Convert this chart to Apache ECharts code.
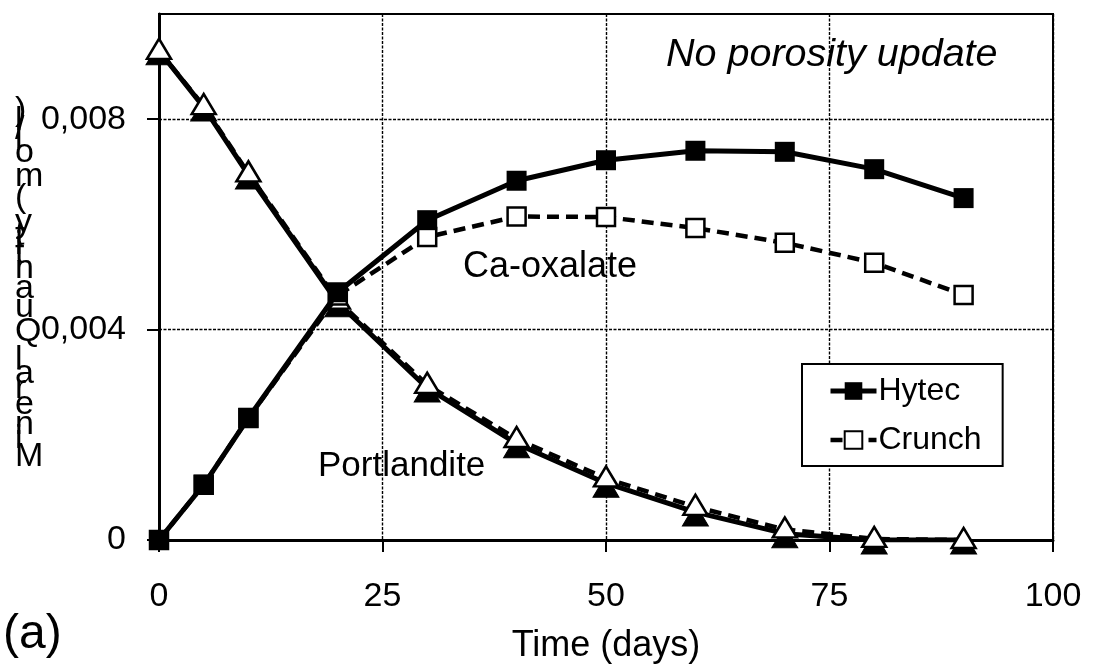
<!DOCTYPE html>
<html>
<head>
<meta charset="utf-8">
<script src="https://cdn.jsdelivr.net/npm/echarts@6/dist/echarts.min.js"></script>
<style>
html,body{margin:0;padding:0;background:#fff;}
#chart{width:1096px;height:670px;}
</style>
</head>
<body>
<div id="chart"></div>
<script>
// ---- data ----
const days = [0, 5, 10, 20, 30, 40, 50, 60, 70, 80, 90];
const hytecOxalate = [0, 0.00105, 0.00232, 0.00471, 0.00608, 0.00683, 0.00722, 0.0074, 0.00738, 0.00705, 0.0065];
const crunchOxalate = [0, 0.00105, 0.00232, 0.00465, 0.00576, 0.00615, 0.00614, 0.00593, 0.00565, 0.00527, 0.00466];
const hytecPortlandite = [0.0093, 0.00823, 0.00694, 0.00451, 0.00289, 0.00183, 0.00108, 0.00053, 0.00012, 0, 0];
const crunchPortlandite = [0.0093, 0.00825, 0.00697, 0.00455, 0.00295, 0.00192, 0.00117, 0.00063, 0.0002, 0.00002, 0];
const xTicks = [0, 25, 50, 75, 100];
const yTicks = [0, 0.004, 0.008];
const legendNames = ['Hytec', 'Crunch'];
const xTitle = 'Time (days)';
const yTitle = 'Mineral Quantity (mol/l)';
const panelTag = '(a)';
const noteText = 'No porosity update';
const oxalateLabel = 'Ca-oxalate';
const portlanditeLabel = 'Portlandite';

const FONT = '"Liberation Sans", Arial, sans-serif';
const pairs = arr => days.map((d, i) => [d, arr[i]]);

// stacked upright y title (characters advance upward, as in the reference)
const yFont = 34;
const ySpacingFont = 35.5;
const cv = document.createElement('canvas').getContext('2d');
cv.font = ySpacingFont + 'px "Liberation Sans"';
const chars = yTitle.split('');
const rich = {};
const lines = [];
for (let i = chars.length - 1; i >= 0; i--) {
  const key = 'c' + i;
  rich[key] = { fontSize: yFont, fontFamily: FONT, color: '#000', lineHeight: Math.max(4, cv.measureText(chars[i]).width) };
  lines.push('{' + key + '|' + chars[i] + '}');
}

const chart = echarts.init(document.getElementById('chart'), null, { renderer: 'canvas' });
const option = {
  animation: false,
  backgroundColor: '#fff',
  textStyle: { fontFamily: FONT, color: '#000' },
  grid: { left: 159, right: 43, top: 14, bottom: 130, show: true, borderColor: '#000', borderWidth: 2, backgroundColor: 'transparent' },
  xAxis: {
    type: 'value', min: 0, max: 100, interval: 25,
    name: xTitle, nameLocation: 'middle', nameGap: 88,
    nameTextStyle: { fontSize: 36, color: '#000', fontFamily: FONT },
    axisLine: { lineStyle: { color: '#000', width: 3 } },
    axisTick: { show: true, inside: false, length: 12, lineStyle: { color: '#000', width: 2 } },
    axisLabel: { fontSize: 34, color: '#000', margin: 40, fontFamily: FONT, customValues: xTicks },
    splitLine: { show: true, lineStyle: { color: '#000', width: 1.4, type: [3, 1.5] } }
  },
  yAxis: {
    type: 'value', min: 0, max: 0.01, interval: 0.004,
    axisLine: { show: true, lineStyle: { color: '#000', width: 3 } },
    axisTick: { show: true, inside: false, length: 12, lineStyle: { color: '#000', width: 2 }, customValues: yTicks },
    axisLabel: {
      fontSize: 34, color: '#000', margin: 33, fontFamily: FONT, customValues: yTicks,
      formatter: v => v === 0 ? '0' : v.toFixed(3).replace('.', ',')
    },
    splitLine: { show: true, lineStyle: { color: '#000', width: 1.4, type: [3, 1.5] } }
  },
  legend: {
    data: [
      { name: legendNames[0], lineStyle: { width: 5 } },
      { name: legendNames[1], lineStyle: { width: 4.5 } }
    ],
    orient: 'vertical', left: 802, top: 364,
    padding: [11, 21, 10, 26], itemGap: 17, itemWidth: 46, itemHeight: 22,
    backgroundColor: '#fff', borderColor: '#000', borderWidth: 2,
    textStyle: { fontSize: 32, color: '#000', fontFamily: FONT, padding: [0, 0, 0, -3] }
  },
  graphic: [
    { type: 'text', left: 15, bottom: 670 - 474, z: 10, style: { text: lines.join('\n'), rich: rich, align: 'center', verticalAlign: 'bottom' } },
    { type: 'text', left: 3, top: 611, z: 10, style: { text: panelTag, fontSize: 48, fill: '#000', fontFamily: FONT } },
    { type: 'text', x: 666, y: 55, z: 10, style: { text: noteText, fontSize: 39.5, fontStyle: 'italic', fill: '#000', fontFamily: FONT, verticalAlign: 'middle' } },
    { type: 'text', x: 463, y: 267, z: 10, style: { text: oxalateLabel, fontSize: 36, fill: '#000', fontFamily: FONT, verticalAlign: 'middle' } },
    { type: 'text', x: 318, y: 466, z: 10, style: { text: portlanditeLabel, fontSize: 35, fill: '#000', fontFamily: FONT, verticalAlign: 'middle' } }
  ],
  series: [
    {
      name: 'Hytec Portlandite', type: 'line', data: pairs(hytecPortlandite), z: 3,
      symbol: 'triangle', symbolSize: [26, 22], symbolOffset: [0, 3],
      lineStyle: { color: '#000', width: 5 },
      itemStyle: { color: '#000', borderColor: '#000', borderWidth: 1 }
    },
    {
      name: 'Crunch Portlandite', type: 'line', data: pairs(crunchPortlandite), z: 4,
      symbol: 'triangle', symbolSize: [24, 20], symbolOffset: [0, -2],
      lineStyle: { color: '#000', width: 4.5, type: [12, 7] },
      itemStyle: { color: '#fff', borderColor: '#000', borderWidth: 2.5 }
    },
    {
      name: 'Crunch', type: 'line', data: pairs(crunchOxalate), z: 5,
      symbol: 'rect', symbolSize: 18,
      lineStyle: { color: '#000', width: 4.5, type: [12, 7] },
      itemStyle: { color: '#fff', borderColor: '#000', borderWidth: 2.5 }
    },
    {
      name: 'Hytec', type: 'line', data: pairs(hytecOxalate), z: 6,
      symbol: 'rect', symbolSize: 20,
      lineStyle: { color: '#000', width: 5 },
      itemStyle: { color: '#000', borderColor: '#000', borderWidth: 0 }
    }
  ]
};
chart.setOption(option);
</script>
</body>
</html>
